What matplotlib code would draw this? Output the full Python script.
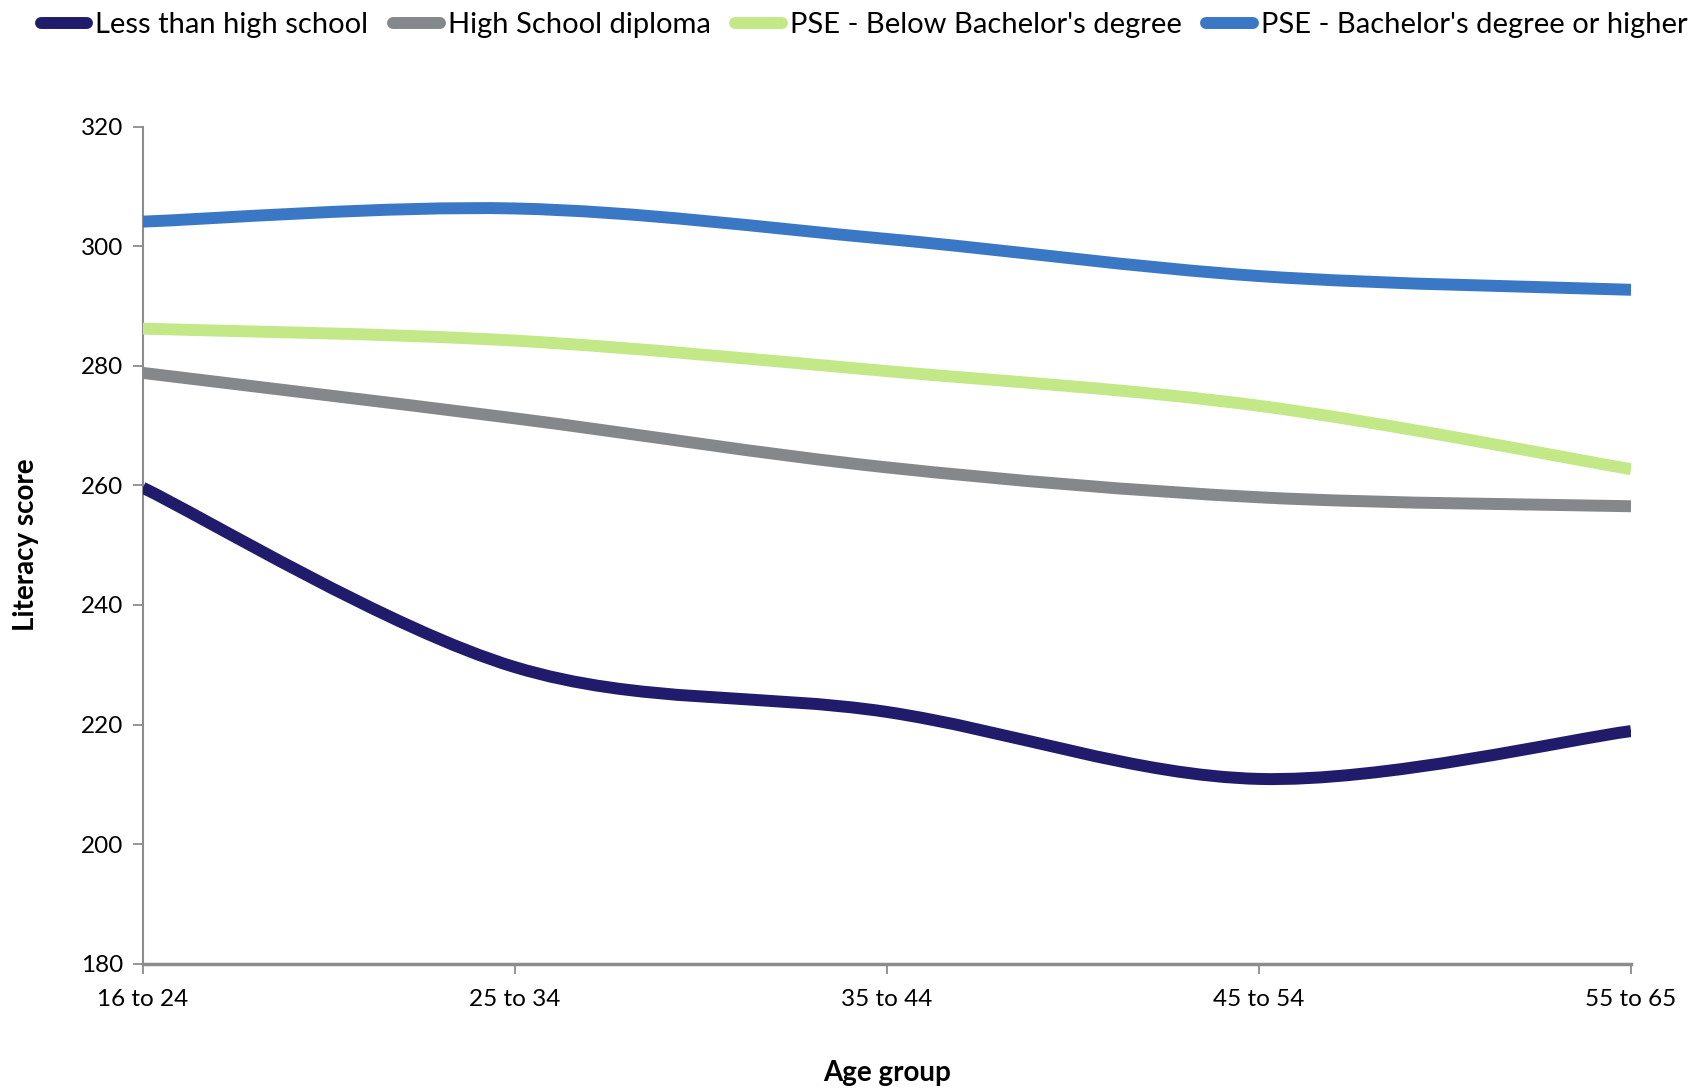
import matplotlib
matplotlib.use("Agg")
import matplotlib.pyplot as plt
from matplotlib.path import Path
from matplotlib.patches import PathPatch
from matplotlib.lines import Line2D


# data ################
age_groups = ["16 to 24", "25 to 34", "35 to 44", "45 to 54", "55 to 65"]
less_than_hs = [259.6, 229.6, 222.1, 210.9, 218.9]
hs_diploma = [278.8, 271.2, 263.0, 258.0, 256.5]
pse_below_ba = [286.2, 284.2, 279.1, 273.3, 262.7]
pse_ba_higher = [304.1, 306.3, 301.2, 295.0, 292.7]
series_names = [
    "Less than high school",
    "High School diploma",
    "PSE - Below Bachelor's degree",
    "PSE - Bachelor's degree or higher",
]
#######################

colors = ["#201c6b", "#84888b", "#c3e888", "#3a78c6"]
line_w = 8.6

plt.rcParams["font.family"] = ["Lato", "DejaVu Sans"]


def smooth_path(xs, ys):
    # excel-like smoothed line: cubic bezier, control points from neighbours / 6
    pts = list(zip(xs, ys))
    n = len(pts)
    verts = [pts[0]]
    codes = [Path.MOVETO]
    for i in range(n - 1):
        p0 = pts[i - 1] if i > 0 else pts[i]
        p1 = pts[i]
        p2 = pts[i + 1]
        p3 = pts[i + 2] if i + 2 < n else pts[i + 1]
        c1 = (p1[0] + (p2[0] - p0[0]) / 6, p1[1] + (p2[1] - p0[1]) / 6)
        c2 = (p2[0] - (p3[0] - p1[0]) / 6, p2[1] - (p3[1] - p1[1]) / 6)
        verts += [c1, c2, p2]
        codes += [Path.CURVE4] * 3
    return Path(verts, codes)


fig = plt.figure(figsize=(16.96, 10.91), dpi=100)
ax = fig.add_axes([0.0842, 0.1167, 0.8775, 0.7673])

x = list(range(len(age_groups)))
all_series = [less_than_hs, hs_diploma, pse_below_ba, pse_ba_higher]

handles = []
for vals, col, name in zip(all_series, colors, series_names):
    patch = PathPatch(smooth_path(x, vals), fill=False, edgecolor=col,
                      linewidth=line_w, capstyle="butt", joinstyle="round", zorder=3)
    ax.add_patch(patch)
    handles.append(Line2D([], [], color=col, linewidth=line_w,
                          solid_capstyle="round", label=name))

ax.set_xlim(0, len(age_groups) - 1)
ax.set_ylim(180, 320)
ax.set_yticks(range(180, 321, 20))
ax.set_xticks(x)
ax.set_xticklabels(age_groups)

for side in ["top", "right"]:
    ax.spines[side].set_visible(False)
for side in ["left", "bottom"]:
    ax.spines[side].set_color("#8c8c8c")
    ax.spines[side].set_linewidth(1.5)
ax.spines["bottom"].set_linewidth(2.5)

ax.tick_params(axis="both", colors="#8c8c8c", length=7, width=1.3, labelcolor="black",
               labelsize=17.5)
ax.tick_params(axis="x", pad=11)
ax.tick_params(axis="y", pad=7)

ax.set_ylabel("Literacy score", fontsize=20, fontweight="bold")
ax.set_xlabel("Age group", fontsize=20, fontweight="bold")
ax.yaxis.set_label_coords(-0.0695, 0.5)
ax.xaxis.set_label_coords(0.5, -0.115)

fig.legend(handles=handles, loc="upper center", bbox_to_anchor=(0.5095, 1.013), ncol=4,
           frameon=False, fontsize=21, handlelength=1.6, handletextpad=0.27,
           columnspacing=0.85)

fig.savefig("out.png", dpi=100)
